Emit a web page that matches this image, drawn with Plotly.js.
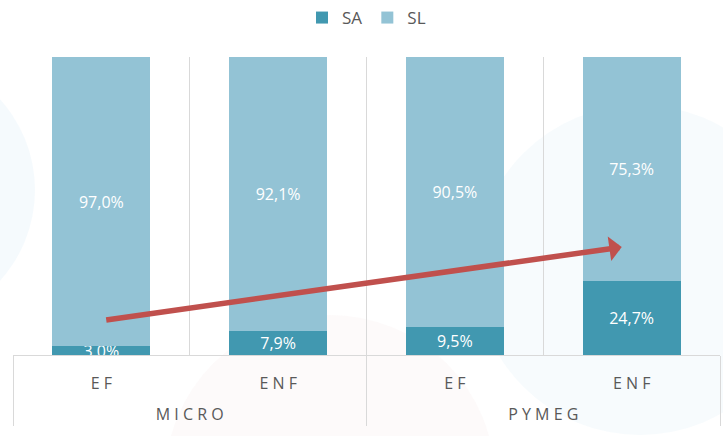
<!DOCTYPE html>
<html><head><meta charset="utf-8">
<script src="https://cdn.plot.ly/plotly-3.0.1.min.js"></script>
<style>html,body{margin:0;padding:0;background:#fff}</style>
</head><body><div id="chart" style="width:723px;height:436px"></div>
<script>
const groups = ["<br>M I C R O", "<br>M I C R O", "<br>P Y M E G", "<br>P Y M E G"];
const types = ["E F", "E N F", "E F", "E N F"];
const saValues = [3.0, 7.9, 9.5, 24.7];
const slValues = [97.0, 92.1, 90.5, 75.3];

const FAM = "Open Sans, sans-serif";
const common = {
  type: "bar",
  x: [groups, types],
  texttemplate: "%{y:.1f}%",
  textposition: "inside",
  insidetextanchor: "middle",
  constraintext: "none",
  textfont: {family: FAM, color: "#ffffff", size: 16},
  hoverinfo: "skip"
};
const data = [
  Object.assign({}, common, {name: "SA", y: saValues, marker: {color: "#4198B0"}}),
  Object.assign({}, common, {name: "SL", y: slValues, marker: {color: "#93C3D5"}})
];

function px2x(p) { return (p - 13) / 707; }
function px2y(p) { return (355 - p) / 298; }
function circ(cx, cy, r, color) {
  return {type: "circle", xref: "paper", yref: "paper", layer: "below", line: {width: 0},
    fillcolor: color, x0: px2x(cx - r), x1: px2x(cx + r), y0: px2y(cy + r), y1: px2y(cy - r)};
}

const layout = {
  width: 723, height: 436,
  margin: {l: 13, r: 3, t: 57, b: 81},
  barmode: "stack",
  bargap: 0.445,
  separators: ",.",
  paper_bgcolor: "#ffffff",
  plot_bgcolor: "rgba(0,0,0,0)",
  font: {family: FAM, color: "#595959", size: 16},
  showlegend: true,
  legend: {orientation: "h", traceorder: "normal", x: 0.5, xanchor: "center", y: 1.0, yref: "container", yanchor: "top",
           font: {family: FAM, size: 17, color: "#595959"}, itemwidth: 30},
  xaxis: {
    type: "multicategory",
    tickson: "boundaries",
    showgrid: true, gridcolor: "#d9d9d9", gridwidth: 1,
    showline: true, linecolor: "#d9d9d9", linewidth: 1,
    showdividers: true, dividercolor: "#d9d9d9", dividerwidth: 1,
    ticks: "", ticklabelstandoff: 14,
    tickfont: {family: FAM, size: 16, color: "#595959"}
  },
  yaxis: {range: [0, 100], showticklabels: false, showgrid: false, zeroline: false, fixedrange: true},
  shapes: [
    circ(-100, 190, 135, "rgba(232,244,251,0.45)"),
    circ(330, 480, 165, "rgba(250,238,238,0.3)"),
    circ(640, 270, 165, "rgba(236,245,251,0.4)")
  ],
  annotations: [{
    xref: "paper", yref: "y", x: 0.861, y: 36.2,
    axref: "pixel", ayref: "pixel", ax: -517, ay: 73,
    showarrow: true, arrowhead: 1, arrowsize: 0.75, arrowwidth: 5.5, arrowcolor: "#C0504D",
    text: ""
  }]
};
Plotly.newPlot("chart", data, layout, {displayModeBar: false, staticPlot: true});
</script></body></html>
